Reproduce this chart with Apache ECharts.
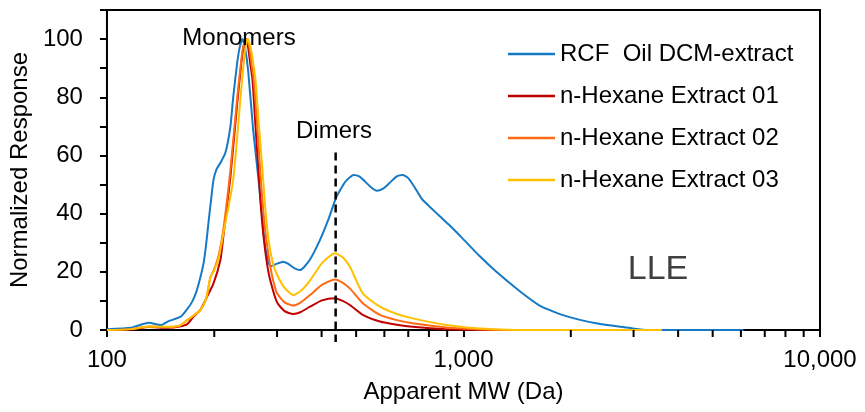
<!DOCTYPE html>
<html>
<head>
<meta charset="utf-8">
<script src="https://cdn.jsdelivr.net/npm/echarts@6/dist/echarts.min.js"></script>
<style>
  html, body { margin: 0; padding: 0; background: #fff; }
  #grafico { width: 865px; height: 412px; }
</style>
</head>
<body>
<div id="grafico"></div>
<script>
// [apparent MW (Da), normalized response]
const rcfOil = [
  [100, 0.3], [117, 0.8], [131, 2.5], [142, 1.7], [148, 2.9], [161, 4.6], [167, 6.8], [173, 9.5],
  [178, 13], [183, 18.3], [187, 23.5], [190, 30], [193, 37.8], [196, 45], [199, 51.6], [203, 55.3],
  [208, 57.4], [215, 61], [222, 70], [226, 80], [232, 92], [236, 97.5], [240, 100], [244, 97],
  [249, 89], [257, 69], [266, 52], [273, 38], [278, 28.5], [287, 22], [293, 22.2], [300, 22.8],
  [312, 23.5], [322, 22.8], [335, 21.3], [348, 20.6], [370, 24], [396, 31], [418, 38], [439, 45.4],
  [458, 49.5], [471, 51.6], [493, 53.3], [510, 52.8], [530, 51], [551, 49], [571, 47.9], [595, 48.6],
  [620, 50.5], [650, 52.8], [675, 53.3], [700, 52.2], [730, 49], [765, 45], [804, 42.4], [860, 39],
  [914, 36], [994, 31.5], [1108, 25.5], [1237, 20], [1433, 13.5], [1631, 8.5], [1890, 5.2],
  [2352, 2.3], [2965, 0.6], [3300, 0], [3600, 0], [6100, 0]
]
const hexane01 = [
  [100, 0], [117, 0.2], [131, 1.0], [148, 0.8], [160, 1.2], [168, 2], [175, 4.6], [183, 7],
  [191, 11.5], [199, 16], [208, 24], [212, 32], [222, 52.7], [232, 78], [240, 95], [245, 100],
  [249, 97], [252, 92], [256, 86], [261, 70], [266, 55], [270, 43], [275, 32], [281, 23],
  [287, 17.2], [300, 9.5], [315, 6.5], [333, 5.5], [350, 6.2], [371, 8], [401, 10.2], [436, 10.9],
  [458, 10], [480, 8.6], [522, 5.2], [583, 2.9], [650, 1.8], [720, 1.1], [896, 0.3], [1087, 0.1],
  [1261, 0], [3600, 0]
]
const hexane02 = [
  [100, 0], [117, 0.3], [131, 1.2], [148, 1.0], [160, 1.5], [168, 3.4], [175, 5], [183, 6.9],
  [190, 11], [195, 18], [200, 21], [206, 26], [212, 34.4], [222, 55], [232, 80], [241, 97.5],
  [247, 100], [251, 97], [254, 92], [258, 86], [264, 70], [269, 55], [274, 42], [280, 31],
  [288, 21], [294, 16], [300, 12.6], [315, 9.5], [333, 8.4], [350, 9.5], [371, 12], [401, 15.5],
  [436, 17.4], [458, 16.3], [480, 14.3], [522, 9.2], [583, 5.2], [650, 3.4], [720, 2.3], [896, 0.9],
  [1087, 0.3], [1261, 0.1], [1500, 0], [3600, 0]
]
const hexane03 = [
  [100, 0], [117, 0.3], [131, 1.2], [148, 1.1], [160, 1.5], [168, 3.4], [175, 5], [183, 6.9],
  [190, 11], [195, 18], [200, 20.6], [206, 25], [212, 33], [226, 51.6], [237, 80], [244, 96],
  [248, 100], [253, 97], [257, 92], [261, 86], [267, 70], [273, 55], [278, 42], [284, 31],
  [292, 23], [300, 19], [315, 14.5], [333, 12], [350, 13.5], [371, 17], [401, 23], [436, 26.4],
  [458, 25], [480, 21.8], [522, 12.6], [583, 8], [650, 5.5], [720, 4], [896, 1.7], [1087, 0.6],
  [1261, 0.2], [1500, 0], [3600, 0]
]

const nombres = ['RCF  Oil DCM-extract', 'n-Hexane Extract 01', 'n-Hexane Extract 02', 'n-Hexane Extract 03']
const colores = ['#1679C4', '#C00000', '#FF6A13', '#FFC000']
const minorTicksX = [200, 300, 400, 500, 600, 700, 800, 900, 2000, 3000, 4000, 5000, 6000, 7000, 8000, 9000]
const dimerMW = 438
const dimerTop = 61

const fuente = 'Liberation Sans, Arial, sans-serif'
let myChart = echarts.init(document.getElementById('grafico'), null, { renderer: 'canvas' })

let lineSeries = [rcfOil, hexane01, hexane02, hexane03].map((datos, i) => {
  return {
    name: nombres[i],
    type: 'line',
    data: datos,
    symbol: 'none',
    smooth: 0.2,
    lineStyle: { width: 2, color: colores[i] },
    itemStyle: { color: colores[i] },
    z: 3 + i
  }
})

let option = {
  animation: false,
  textStyle: { fontFamily: fuente },
  grid: {
    left: 106,
    right: 45,
    top: 10,
    bottom: 82,
    show: true,
    borderColor: '#000',
    borderWidth: 2
  },
  legend: {
    data: nombres.map((n, i) => ({ name: n, icon: 'rect', itemStyle: { color: colores[i] } })),
    orient: 'vertical',
    left: 503,
    top: 37,
    itemWidth: 47,
    itemHeight: 2.5,
    itemGap: 18,
    textStyle: { fontSize: 24, color: '#000', fontFamily: fuente, lineHeight: 24 }
  },
  xAxis: {
    type: 'log',
    logBase: 10,
    min: 100,
    max: 10000,
    name: 'Apparent MW (Da)',
    nameLocation: 'middle',
    nameGap: 50,
    nameTextStyle: { fontSize: 24, color: '#000', fontFamily: fuente },
    axisLine: { lineStyle: { color: '#000', width: 2 } },
    axisTick: { length: 7, lineStyle: { color: '#000', width: 2 } },
    axisLabel: {
      fontSize: 24,
      color: '#000',
      margin: 18,
      formatter: v => Number(v).toLocaleString('en-US')
    },
    splitLine: { show: false }
  },
  yAxis: {
    type: 'value',
    min: 0,
    max: 110,
    interval: 10,
    name: 'Normalized Response',
    nameLocation: 'middle',
    nameGap: 66,
    nameTextStyle: { fontSize: 24, color: '#000', fontFamily: fuente },
    axisLine: { show: true, lineStyle: { color: '#000', width: 2 } },
    axisTick: { length: 7, lineStyle: { color: '#000', width: 2 } },
    axisLabel: {
      fontSize: 24,
      color: '#000',
      margin: 24,
      formatter: v => (v % 20 === 0 && v <= 100 ? String(v) : '')
    },
    splitLine: { show: false }
  },
  graphic: [
    { type: 'text', x: 239, y: 38, z: 20, style: { text: 'Monomers', font: '24px ' + fuente, fill: '#000', align: 'center', verticalAlign: 'middle' } },
    { type: 'text', x: 334, y: 131, z: 20, style: { text: 'Dimers', font: '24px ' + fuente, fill: '#000', align: 'center', verticalAlign: 'middle' } },
    { type: 'text', x: 658, y: 270, z: 20, style: { text: 'LLE', font: '34px ' + fuente, fill: '#404040', align: 'center', verticalAlign: 'middle' } }
  ],
  series: [
    ...lineSeries,
    {
      name: 'minorX',
      type: 'custom',
      silent: true,
      clip: false,
      z: 10,
      data: minorTicksX.map(v => [v, 0]),
      renderItem: (params, api) => {
        let p = api.coord([api.value(0), 0])
        return {
          type: 'line',
          shape: { x1: p[0], y1: p[1], x2: p[0], y2: p[1] + 7 },
          style: { stroke: '#000', lineWidth: 2 }
        }
      }
    },
    {
      name: 'dimers',
      type: 'custom',
      silent: true,
      clip: false,
      z: 10,
      data: [[dimerMW, dimerTop]],
      renderItem: (params, api) => {
        let top = api.coord([api.value(0), api.value(1)])
        let bottom = api.coord([api.value(0), 0])
        return {
          type: 'line',
          shape: { x1: top[0], y1: top[1], x2: bottom[0], y2: bottom[1] + 12 },
          style: { stroke: '#000', lineWidth: 2.5, lineDash: [8, 5] }
        }
      }
    }
  ]
}

myChart.setOption(option)
</script>
</body>
</html>
